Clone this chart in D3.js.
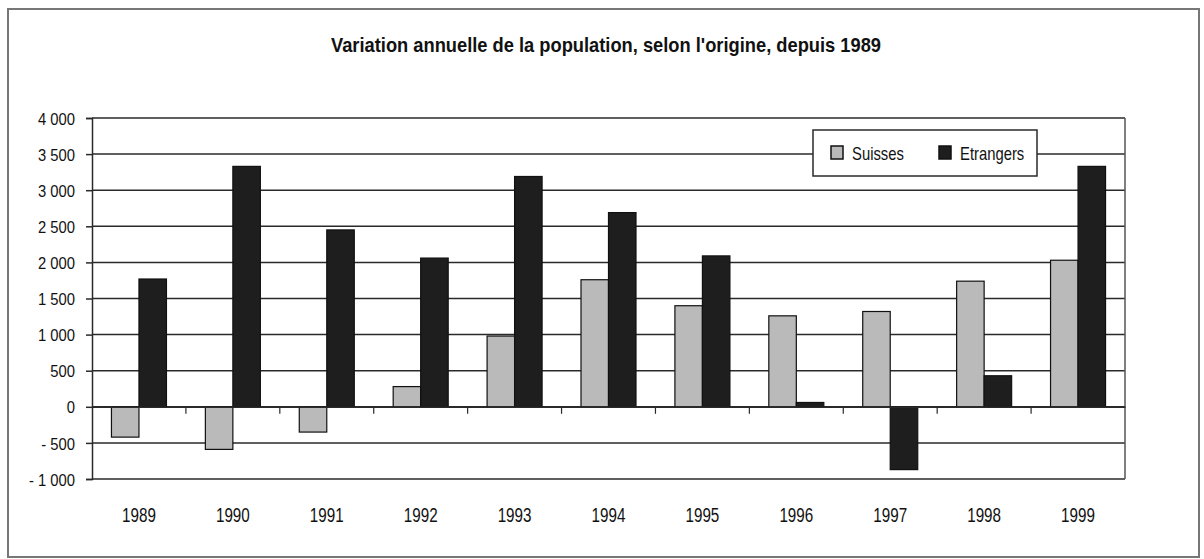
<!DOCTYPE html>
<html>
<head>
<meta charset="utf-8">
<script src="https://cdn.jsdelivr.net/npm/d3@7"></script>
<style>
  body { margin: 0; background: #fff; }
  svg text { font-family: "Liberation Sans", Arial, sans-serif; fill: #111; }
</style>
</head>
<body>
<div id="chart"></div>
<script>
var years = ['1989','1990','1991','1992','1993','1994','1995','1996','1997','1998','1999'];
var suisses = [-420, -590, -350, 280, 980, 1760, 1400, 1260, 1320, 1740, 2030];
var etrangers = [1770, 3330, 2450, 2060, 3190, 2690, 2090, 60, -870, 430, 3330];
var series_names = ['Suisses', 'Etrangers'];
var series_colors = ['#bababa', '#1e1e1e'];
var y_ticks = [-1000, -500, 0, 500, 1000, 1500, 2000, 2500, 3000, 3500, 4000];
var title = "Variation annuelle de la population, selon l'origine, depuis 1989";

var w = 1204, h = 559;
var pLeft = 92, pRight = 1125, pTop = 118, pBottom = 479;

// police "narrow" : on comprime le texte horizontalement
function narrow(sel, f) {
  sel.each(function() {
    var len = this.getComputedTextLength();
    d3.select(this).attr('textLength', len * f).attr('lengthAdjust', 'spacingAndGlyphs');
  });
}

var svg = d3.select('#chart').append('svg')
            .attr('width', w).attr('height', h);

// cadre
svg.append('rect')
   .attr('x', 8).attr('y', 9).attr('width', 1191).attr('height', 548)
   .attr('fill', '#fff').attr('stroke', '#777').attr('stroke-width', 2);

svg.append('text')
   .attr('x', 606).attr('y', 52)
   .attr('text-anchor', 'middle')
   .style('font-size', '21px').style('font-weight', 'bold')
   .text(title)
   .attr('textLength', 550).attr('lengthAdjust', 'spacingAndGlyphs');

var xScale = d3.scaleBand().domain(years).range([pLeft, pRight]);
var yScale = d3.scaleLinear().domain([-1000, 4000]).range([pBottom, pTop]);
var barW = 27.5;

// grille
svg.append('g').selectAll('line').data(y_ticks).enter().append('line')
   .attr('x1', pLeft).attr('x2', pRight)
   .attr('y1', function(d) { return yScale(d); })
   .attr('y2', function(d) { return yScale(d); })
   .attr('stroke', '#2a2a2a').attr('stroke-width', 1.5);

// axe y
var yAxis = d3.axisLeft(yScale).tickValues(y_ticks).tickSize(6)
              .tickFormat(function(d) {
                var s = d3.format(',')(Math.abs(d)).replace(/,/g, ' ');
                return d < 0 ? '- ' + s : s;
              });
var gy = svg.append('g').attr('transform', 'translate(' + pLeft + ',0)').call(yAxis);
gy.select('.domain').attr('stroke', '#2a2a2a').attr('stroke-width', 1.5);
gy.selectAll('.tick line').attr('stroke', '#2a2a2a').attr('stroke-width', 1.5);
gy.selectAll('.tick text').attr('x', -17).attr('dy', '0.36em')
  .style('font-size', '17px').style('font-family', '"Liberation Sans", Arial, sans-serif')
  .attr('fill', '#111');
narrow(gy.selectAll('.tick text'), 0.87);

svg.append('line')
   .attr('x1', pRight).attr('x2', pRight).attr('y1', pTop).attr('y2', pBottom)
   .attr('stroke', '#555').attr('stroke-width', 1.5);

// barres
var data = years.map(function(y, i) { return {year: y, vals: [suisses[i], etrangers[i]]}; });
var groups = svg.append('g').selectAll('g').data(data).enter().append('g');
groups.selectAll('rect').data(function(d) {
        return d.vals.map(function(v, k) { return {year: d.year, v: v, k: k}; });
      }).enter().append('rect')
      .attr('x', function(d) { return xScale(d.year) + xScale.bandwidth() / 2 - barW + d.k * barW; })
      .attr('y', function(d) { return yScale(Math.max(0, d.v)); })
      .attr('width', barW)
      .attr('height', function(d) { return Math.abs(yScale(d.v) - yScale(0)); })
      .attr('fill', function(d) { return series_colors[d.k]; })
      .attr('stroke', '#111').attr('stroke-width', 1.2);

// axe x au niveau zero
var xAxis = d3.axisBottom(xScale).tickSize(0).tickFormat('');
var gx = svg.append('g').attr('transform', 'translate(0,' + yScale(0) + ')').call(xAxis);
gx.select('.domain').attr('stroke', '#2a2a2a').attr('stroke-width', 1.5);
gx.selectAll('.sep').data(years.slice(1)).enter().append('line')
  .attr('x1', function(d) { return xScale(d); })
  .attr('x2', function(d) { return xScale(d); })
  .attr('y1', 0).attr('y2', 7)
  .attr('stroke', '#2a2a2a').attr('stroke-width', 1.2);

var xl = svg.append('g').selectAll('text').data(years).enter().append('text')
   .attr('x', function(d) { return xScale(d) + xScale.bandwidth() / 2; })
   .attr('y', 522)
   .attr('text-anchor', 'middle')
   .style('font-size', '19.5px')
   .text(function(d) { return d; });
narrow(xl, 0.78);

// légende
var lg = svg.append('g').attr('transform', 'translate(813,130)');
lg.append('rect').attr('width', 224).attr('height', 46)
  .attr('fill', '#fff').attr('stroke', '#2a2a2a').attr('stroke-width', 1.5);
var lx = [18, 126];
series_names.forEach(function(n, i) {
  lg.append('rect').attr('x', lx[i]).attr('y', 16).attr('width', 12).attr('height', 13)
    .attr('fill', series_colors[i]).attr('stroke', '#111').attr('stroke-width', 1.5);
  var t = lg.append('text').attr('x', lx[i] + 21).attr('y', 30)
    .style('font-size', '19px').text(n);
  narrow(t, 0.78);
});
</script>
</body>
</html>
